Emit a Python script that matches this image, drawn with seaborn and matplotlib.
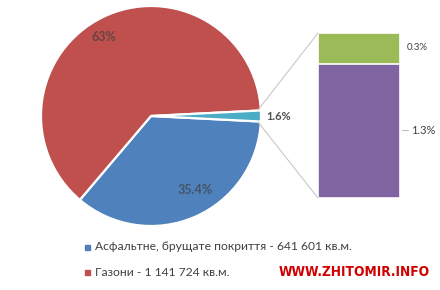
import matplotlib
matplotlib.use("Agg")
import matplotlib.pyplot as plt
import seaborn as sns
import pandas as pd

sns.set_theme(style="white")
plt.rcParams['font.family'] = ['Lato', 'DejaVu Sans']

# ---- data ----
pie_labels = ["35.4%", "63%", "1.6%"]
pie_values = [35.4, 63.0, 1.6]
pie_colors = ["#4F81BD", "#C0504D", "#4BACC6"]

bar_categories = ["sub"]
bar_bottom = [1.3]      # purple part
bar_top = [0.3]         # green part
bar_labels = ["1.3%", "0.3%"]
bar_colors = ["#8064A2", "#9BBB59"]

legend_texts = [
    "Асфальтне, брущате покриття - 641 601 кв.м.",
    "Газони - 1 141 724 кв.м.",
    "Щебеневе, ґрунтове покриття - 2 940 кв.м.",
]
legend_colors = ["#4F81BD", "#C0504D", "#4BACC6"]
watermark = "WWW.ZHITOMIR.INFO"

W, H = 440, 290
fig = plt.figure(figsize=(W / 100, H / 100), dpi=100)
ax = fig.add_axes([0, 0, 1, 1])
ax.set_xlim(0, W)
ax.set_ylim(0, H)
ax.set_aspect("equal")
ax.axis("off")

def py(y):  # pixel-from-top to data y
    return H - y

cx, cy, R = 151, py(116), 110
teal_half = pie_values[2] / 100 * 360 / 2
wedges, _ = ax.pie(pie_values, colors=pie_colors, startangle=-teal_half,
                   counterclock=False, center=(cx, cy), radius=R,
                   wedgeprops=dict(edgecolor="white", linewidth=1.6))
ax.set_xlim(0, W)
ax.set_ylim(0, H)
ax.axis("off")

lab_kw = dict(color="#404040", fontsize=9, fontweight="bold", alpha=0.7)
ax.text(104, py(37), pie_labels[1], ha="center", va="center", **lab_kw)
ax.text(195, py(190), pie_labels[0], ha="center", va="center", **lab_kw)
ax.text(266, py(116), pie_labels[2], ha="left", va="center",
        color="#505050", fontsize=8, fontweight="bold")

# connector lines
bx0, bx1, btop, bbot = 318, 400, 33, 198
ax.plot([258, bx0], [py(110), py(btop)], color="#C8C8C8", lw=0.8)
ax.plot([258, bx0], [py(122), py(bbot)], color="#C8C8C8", lw=0.8)

# stacked bar in inset axes
bax = fig.add_axes([bx0 / W, (H - bbot) / H, (bx1 - bx0) / W, (bbot - btop) / H])
df = pd.DataFrame({"cat": bar_categories,
                   "total": [b + t for b, t in zip(bar_bottom, bar_top)],
                   "bottom": bar_bottom})
sns.barplot(data=df, x="cat", y="total", color=bar_colors[1], width=1.0,
            saturation=1, ax=bax, edgecolor="white", linewidth=1.2)
sns.barplot(data=df, x="cat", y="bottom", color=bar_colors[0], width=1.0,
            saturation=1, ax=bax, edgecolor="white", linewidth=1.2)
bax.set_xlim(-0.5, 0.5)
bax.set_ylim(0, df["total"].iloc[0])
bax.axis("off")

ax.text(407, py(47), bar_labels[1], ha="left", va="center", color="#404040", fontsize=7)
ax.plot([402, 408], [py(130), py(130)], color="#BFBFBF", lw=0.8)
ax.text(411, py(130), bar_labels[0], ha="left", va="center", color="#404040", fontsize=8)

# legend
for i, (t, c) in enumerate(zip(legend_texts, legend_colors)):
    y = 247 + 25 * i
    ax.add_patch(plt.Rectangle((85, py(y) - 2.5), 5, 5, color=c))
    ax.text(95, py(y), t, ha="left", va="center", color="#404040", fontsize=8.7)

ax.text(354, py(272), watermark, ha="center", va="center", color="#D00000",
        fontsize=9.8, fontweight="bold", fontstretch="condensed",
        family=["DejaVu Sans"])

fig.savefig("out.png", dpi=100)
